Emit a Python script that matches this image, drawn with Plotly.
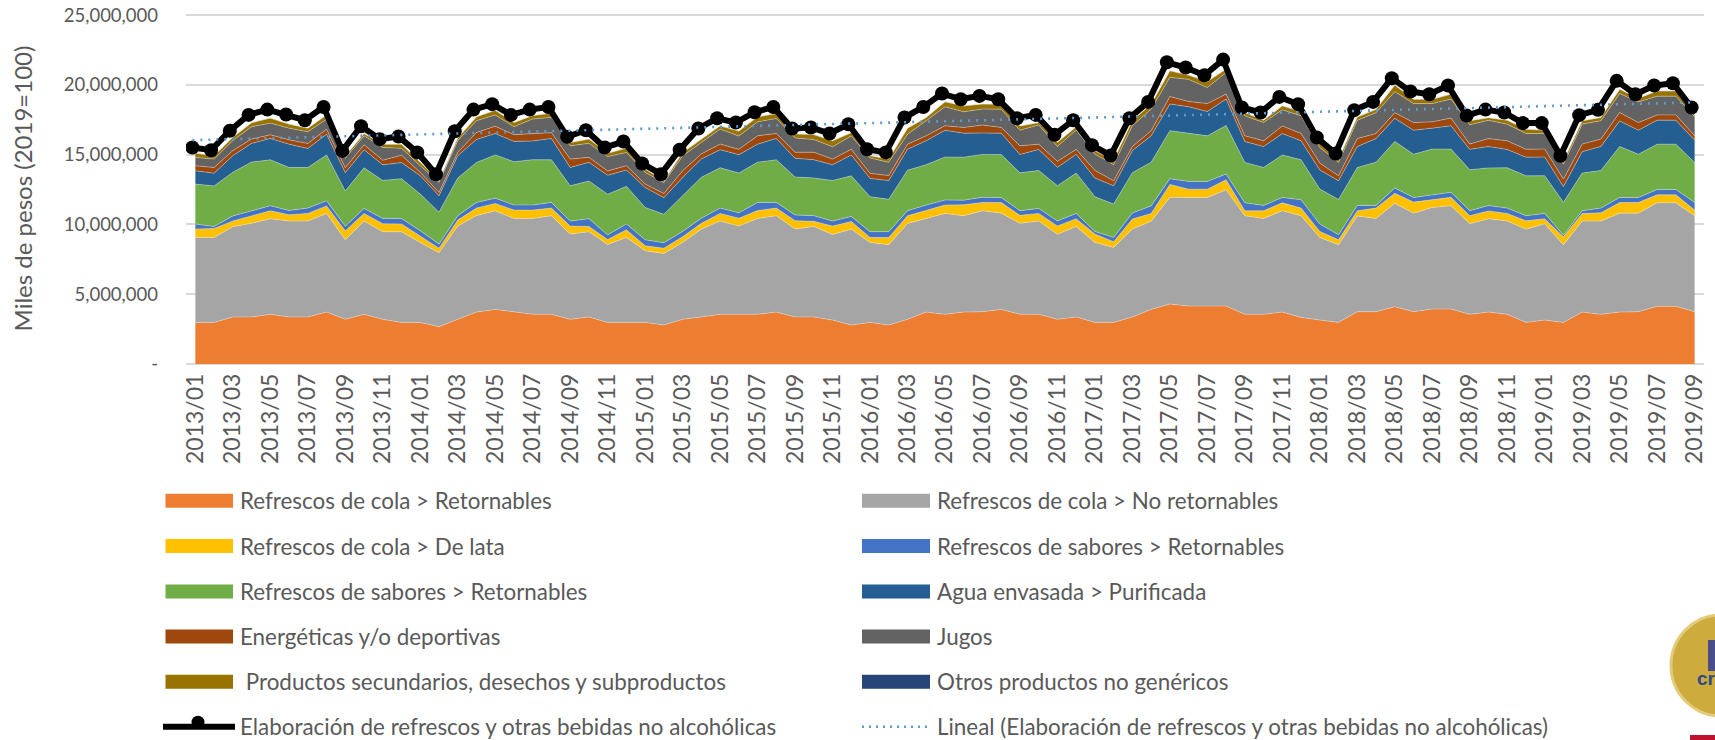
import numpy as np
import plotly.graph_objects as go

anios = range(2013, 2020)
meses = [f"{a}/{m:02d}" for a in anios for m in range(1, 13)][:81]
etiquetas_x = meses[::2]

# Valores en millones de miles de pesos
cola_ret = [2.98,2.98,3.37,3.37,3.56,3.37,3.37,3.72,3.20,3.56,3.20,2.98,2.98,2.67,3.20,3.72,3.91,3.75,3.56,3.56,
3.20,3.37,2.98,2.98,2.98,2.79,3.20,3.37,3.56,3.56,3.56,3.72,3.37,3.37,3.15,2.79,2.98,2.79,3.20,3.72,
3.56,3.72,3.75,3.91,3.56,3.56,3.20,3.37,2.98,2.98,3.37,3.91,4.30,4.15,4.15,4.15,3.56,3.56,3.72,3.34,
3.15,2.98,3.75,3.75,4.11,3.75,3.94,3.94,3.56,3.72,3.56,2.98,3.15,2.98,3.72,3.56,3.72,3.75,4.13,4.13,3.75]
cola_noret = [6.09,6.09,6.47,6.71,6.85,6.87,6.87,7.06,5.70,6.68,6.28,6.49,5.73,5.30,6.68,6.92,7.06,6.68,6.87,7.06,
6.11,6.11,5.58,6.09,5.13,5.13,5.51,6.30,6.68,6.32,6.87,6.90,6.30,6.49,6.13,6.87,5.73,5.75,6.87,6.71,
7.23,6.90,7.23,6.90,6.52,6.68,6.09,6.49,5.73,5.37,6.30,6.32,7.64,7.78,7.78,8.33,7.06,6.87,7.26,7.28,
5.92,5.56,6.85,6.68,7.40,7.06,7.28,7.40,6.49,6.68,6.68,6.68,6.90,5.56,6.52,6.68,7.09,7.06,7.42,7.42,6.87]
cola_lata = [.60,.64,.41,.55,.57,.45,.55,.55,.64,.55,.57,.57,.48,.33,.43,.53,.53,.60,.60,.55,
.57,.38,.36,.55,.36,.38,.41,.41,.55,.57,.57,.55,.60,.36,.60,.55,.36,.53,.55,.60,
.60,.79,.60,.76,.57,.55,.60,.55,.60,.41,.72,.55,.93,.60,.60,.72,.36,.55,.57,.55,
.43,.36,.38,.74,.72,.79,.55,.60,.57,.57,.55,.60,.36,.57,.55,.60,.76,.76,.57,.57,.41]
sabores_ret_a = [.36,.14,.36,.36,.36,.31,.38,.36,.33,.36,.38,.38,.36,.29,.31,.41,.38,.36,.36,.41,
.36,.55,.33,.41,.43,.38,.38,.36,.38,.38,.57,.41,.41,.41,.36,.36,.41,.41,.36,.36,
.36,.33,.36,.36,.33,.36,.36,.38,.19,.31,.43,.55,.41,.55,.55,.41,.57,.38,.38,.60,
.53,.36,.38,.19,.38,.33,.36,.36,.36,.38,.38,.36,.38,.12,.19,.33,.36,.36,.38,.38,.55]
sabores_ret_b = [2.86,2.91,3.13,3.48,3.29,3.08,2.91,3.29,2.53,2.91,2.72,2.86,2.63,2.29,2.70,2.86,3.10,3.10,3.25,3.05,
2.53,2.70,2.91,2.70,2.32,2.05,2.55,2.94,2.89,2.86,2.89,3.05,2.72,2.70,2.91,2.91,2.51,2.32,2.91,2.89,
3.08,3.08,3.08,3.08,2.72,2.72,2.53,2.89,2.48,2.39,2.89,3.13,3.44,3.46,3.27,3.48,2.89,2.72,3.05,2.86,
2.51,2.53,2.72,3.10,3.34,3.10,3.27,3.10,2.94,2.70,2.89,2.86,2.70,2.36,2.70,2.70,3.65,3.10,3.25,3.25,2.86]
agua = [.95,.91,1.19,1.34,1.53,1.67,1.36,1.48,1.31,1.29,1.12,1.15,1.31,1.17,1.60,1.65,1.53,1.46,1.34,1.53,
1.31,1.34,1.36,1.17,1.43,1.19,1.31,1.31,1.29,1.31,1.29,1.53,1.34,1.31,1.12,1.50,1.31,1.34,1.50,1.72,
1.91,1.72,1.53,1.53,1.31,1.50,1.31,1.34,1.34,1.31,1.58,1.89,1.91,1.89,1.74,1.89,1.50,1.50,1.53,1.36,
1.36,1.34,1.50,1.69,1.65,1.72,1.50,1.67,1.46,1.53,1.31,1.34,1.34,1.12,1.53,1.72,1.84,1.72,1.72,1.72,1.60]
energeticas = [.36,.41,.36,.31,.26,.31,.36,.36,.36,.36,.33,.53,.24,.24,.24,.50,.53,.48,.53,.41,
.60,.36,.31,.31,.24,.29,.48,.36,.41,.38,.60,.36,.43,.53,.41,.41,.36,.36,.36,.36,
.33,.41,.57,.41,.62,.38,.43,.36,.55,.36,.29,.36,.53,.38,.57,.36,.41,.41,.55,.53,
.50,.36,.57,.36,.41,.55,.45,.55,.38,.57,.62,.57,.57,.53,.55,.53,.60,.55,.38,.38,.31]
jugos = [.60,.60,.72,.88,.84,.84,.84,.72,.67,.64,.91,.50,.48,.72,.84,.84,.81,.57,1.05,1.10,
.95,1.00,1.03,.95,.84,.79,1.07,.84,1.07,.95,1.00,1.07,1.03,.91,.88,.95,1.10,.95,.72,1.07,
1.36,1.12,1.15,1.31,1.12,1.38,1.07,1.38,1.17,1.15,1.50,1.55,1.38,1.58,1.15,1.55,1.43,1.31,1.15,1.26,
1.12,.95,1.31,1.50,1.50,1.36,1.31,1.36,1.38,1.31,1.19,1.12,1.12,1.07,1.43,1.31,1.36,1.48,1.34,1.34,1.36]
secundarios = [.31,.24,.24,.29,.36,.29,.26,.31,.17,.17,.24,.29,.24,.12,.19,.29,.33,.31,.24,.31,
.24,.31,.24,.31,.24,.12,.24,.19,.24,.36,.36,.36,.29,.36,.43,.24,.17,.24,.43,.24,
.36,.43,.36,.36,.31,.17,.29,.24,.24,.33,.36,.36,.48,.31,.43,.24,.24,.17,.29,.31,
.36,.24,.24,.24,.48,.31,.31,.36,.29,.19,.29,.31,.24,.24,.24,.24,.31,.26,.38,.38,.14]
otros = [0.0] * 81
elaboracion = [15.51,15.32,16.71,17.85,18.23,17.88,17.47,18.42,15.27,17.04,16.11,16.30,15.16,13.60,16.68,18.23,18.62,17.85,18.23,18.42,
16.28,16.75,15.51,15.94,14.37,13.60,15.35,16.87,17.61,17.30,18.04,18.42,16.87,16.95,16.52,17.18,15.39,15.16,17.66,18.42,
19.38,18.97,19.21,18.97,17.61,17.85,16.42,17.47,15.68,14.94,17.61,18.78,21.62,21.24,20.69,21.81,18.38,18.02,19.14,18.62,
16.23,15.08,18.19,18.78,20.48,19.52,19.33,19.95,17.80,18.23,18.02,17.26,17.26,14.92,17.83,18.21,20.29,19.33,19.95,20.12,18.38]
lineal_extremos = [16.04, 18.74]

nombres = ["Refrescos de cola > Retornables", "Refrescos de cola > No retornables",
           "Refrescos de cola > De lata", "Refrescos de sabores > Retornables",
           "Refrescos de sabores > Retornables", "Agua envasada > Purificada",
           "Energéticas y/o deportivas", "Jugos",
           " Productos secundarios, desechos y subproductos", "Otros productos no genéricos"]
nombre_linea = "Elaboración de refrescos y otras bebidas no alcohólicas"
nombre_lineal = "Lineal (Elaboración de refrescos y otras bebidas no alcohólicas)"
colores = ["#ED7D31", "#A5A5A5", "#FFC000", "#4472C4", "#70AD47",
           "#255E91", "#9E480E", "#636363", "#997300", "#264478"]
series = [cola_ret, cola_noret, cola_lata, sabores_ret_a, sabores_ret_b,
          agua, energeticas, jugos, secundarios, otros]

W, H = 1715, 740
px = lambda v: v / W
py = lambda v: 1 - v / H
TXT = "#595959"
FONT = "Lato, Carlito, Calibri, sans-serif"
LEY = 22.4

fig = go.Figure()
for nombre, color, valores in zip(nombres, colores, series):
    fig.add_trace(go.Scatter(x=meses, y=np.array(valores) * 1e6, name=nombre.strip(), mode="lines",
                             stackgroup="uno", line=dict(width=0.7, color="rgba(235,235,235,0.55)"),
                             fillcolor=color, showlegend=False))
fig.add_trace(go.Scatter(x=meses, y=np.array(elaboracion) * 1e6, name=nombre_linea, mode="lines+markers",
                         xaxis="x2", line=dict(color="#000000", width=6),
                         marker=dict(color="#000000", size=14), showlegend=False))
fig.add_trace(go.Scatter(x=[meses[0], meses[-1]], y=np.array(lineal_extremos) * 1e6, name=nombre_lineal,
                         mode="lines", xaxis="x2", line=dict(color="#5B9BD5", width=2.6, dash="2px,6px"),
                         showlegend=False))

shapes, anots = [], []
filas = [500.7, 546, 591.5, 636.5, 681.7, 726.7]
col_sw = [(165.5, 233, 237.5), (862, 930, 935)]
for k, (nombre, color) in enumerate(zip(nombres, colores)):
    x0, x1, xt = col_sw[k % 2]
    yc = filas[k // 2]
    shapes.append(dict(type="rect", xref="paper", yref="paper", x0=px(x0), x1=px(x1), y0=py(yc - 7), y1=py(yc + 7),
                       fillcolor=color, line=dict(width=0)))
    anots.append(dict(text=nombre.replace(" ", "&nbsp;", 1) if nombre.startswith(" ") else nombre,
                      xref="paper", yref="paper", x=px(xt), y=py(yc), xanchor="left", yanchor="middle",
                      showarrow=False, font=dict(family=FONT, size=LEY, color=TXT)))
# Entradas de leyenda de las dos lineas
yc = filas[5]
shapes.append(dict(type="line", xref="paper", yref="paper", x0=px(163), x1=px(235), y0=py(yc), y1=py(yc),
                   line=dict(color="#000000", width=6)))
shapes.append(dict(type="circle", xref="paper", yref="paper", x0=px(191.5), x1=px(204.5), y0=py(yc + 2), y1=py(yc - 11),
                   fillcolor="#000000", line=dict(width=0)))
shapes.append(dict(type="line", xref="paper", yref="paper", x0=px(862), x1=px(930), y0=py(yc), y1=py(yc),
                   line=dict(color="#5B9BD5", width=2.6, dash="2px,5px")))
anots.append(dict(text=nombre_linea, xref="paper", yref="paper", x=px(237.5), y=py(yc), xanchor="left", yanchor="middle",
                  showarrow=False, font=dict(family=FONT, size=LEY, color=TXT)))
anots.append(dict(text=nombre_lineal, xref="paper", yref="paper", x=px(935), y=py(yc), xanchor="left", yanchor="middle",
                  showarrow=False, font=dict(family=FONT, size=LEY, color=TXT)))
# Sello en la esquina inferior derecha
shapes.append(dict(type="circle", xref="paper", yref="paper", x0=px(1671), x1=px(1771), y0=py(716), y1=py(615),
                   fillcolor="#CDAB3C", line=dict(color="#E2CC7A", width=3)))
shapes.append(dict(type="rect", xref="paper", yref="paper", x0=px(1708), x1=px(1716), y0=py(671), y1=py(640),
                   fillcolor="#4A4F8C", line=dict(width=0)))
shapes.append(dict(type="rect", xref="paper", yref="paper", x0=px(1690), x1=px(1716), y0=py(741), y1=py(735),
                   fillcolor="#C0122E", line=dict(width=0)))
anots.append(dict(text="<b>cr</b>", xref="paper", yref="paper", x=px(1695), y=py(678), xanchor="left", yanchor="middle",
                  showarrow=False, font=dict(family="Liberation Sans", size=19, color="#2B4A8C")))

eje_x = dict(type="category", categoryorder="array", categoryarray=meses)
fig.update_layout(
    width=W, height=H, autosize=False, margin=dict(l=0, r=0, t=0, b=0, pad=0, autoexpand=False),
    paper_bgcolor="white", plot_bgcolor="white", showlegend=False,
    font=dict(family=FONT, color=TXT, size=18),
    xaxis=dict(**eje_x, domain=[px(186), px(1704)], range=[-0.5, 80.5], automargin=False,
               tickmode="array", tickvals=etiquetas_x, ticktext=etiquetas_x, tickangle=-90,
               showgrid=False, showline=False, ticks="", tickfont=dict(size=23, color=TXT), anchor="y",
               ticklabelstandoff=4),
    xaxis2=dict(**eje_x, domain=[px(186), px(1704)], range=[-0.34, 80.66], overlaying="x",
                visible=False, anchor="y", automargin=False),
    yaxis=dict(domain=[py(364), py(13)], range=[0, 25.15e6], tickmode="array", automargin=False,
               tickvals=[0, 5e6, 10e6, 15e6, 20e6, 25e6],
               ticktext=["-", "5,000,000", "10,000,000", "15,000,000", "20,000,000", "25,000,000"],
               tickfont=dict(size=18.5, color=TXT), gridcolor="#D9D9D9", gridwidth=2,
               zeroline=True, zerolinecolor="#D9D9D9", zerolinewidth=2, ticks="",
               ticklabelstandoff=27,
               title=dict(text="Miles de pesos (2019=100)", font=dict(size=24, color=TXT), standoff=24)),
    shapes=shapes, annotations=anots,
)
fig.write_html("out.html", config=dict(displayModeBar=False),
               post_script="document.body.style.margin='0';document.body.style.overflow='hidden';")
